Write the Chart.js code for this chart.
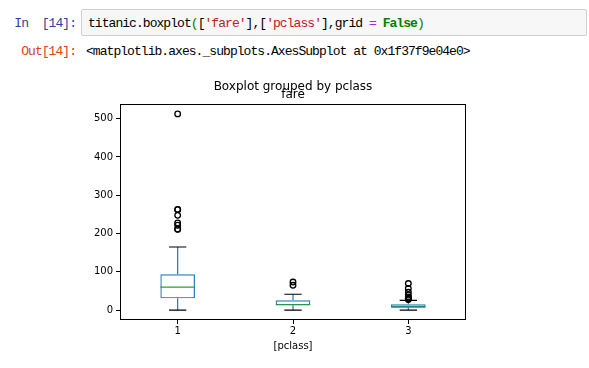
<!DOCTYPE html>
<html>
<head>
<meta charset="utf-8">
<script src="https://cdn.jsdelivr.net/npm/chart.js@4/dist/chart.umd.min.js"></script>
<style>
  html, body { margin: 0; padding: 0; background: #fff; }
  body { width: 589px; height: 368px; position: relative; overflow: hidden; }
  .mono { font-family: "Liberation Mono", "DejaVu Sans Mono", monospace; font-size: 13px; letter-spacing: -0.95px; white-space: pre; position: absolute; line-height: 16px; }
  #inPrompt { left: 0; width: 76px; top: 16px; text-align: right; color: #303F9F; }
  #outPrompt { left: 0; width: 76px; top: 44px; text-align: right; color: #D84315; }
  #inBox { position: absolute; left: 81px; top: 9px; width: 506px; height: 27px; background: #f7f7f7; border: 1px solid #cfcfcf; border-radius: 2px; box-sizing: border-box; }
  #code { left: 88px; top: 16px; color: #000; }
  #outText { left: 86px; top: 44px; color: #000; }
  .s { color: #BA2121; } .o { color: #AA22FF; } .k { color: #008000; font-weight: bold; } .b { color: #008000; }
  #wrap { position: absolute; left: 0; top: 0; width: 589px; height: 368px; }
</style>
</head>
<body>
<div id="inBox"></div>
<div class="mono" id="inPrompt">In  [14]:</div>
<div class="mono" id="code">titanic.boxplot<span class="b">(</span>[<span class="s">'fare'</span>],[<span class="s">'pclass'</span>],grid <span class="o">=</span> <span class="k">False</span><span class="b">)</span></div>
<div class="mono" id="outPrompt">Out[14]:</div>
<div class="mono" id="outText">&lt;matplotlib.axes._subplots.AxesSubplot at 0x1f37f9e04e0&gt;</div>
<div id="wrap"><canvas id="c" width="589" height="368"></canvas></div>
<script>
// ---- data (titanic fare by pclass) ----
const classes = [1, 2, 3];
const tickLabels = ['1', '2', '3'];
const whiskerLow = [0, 0, 0];
const q1 = [30.92, 13.0, 7.75];
const median = [60.29, 14.25, 8.05];
const q3 = [93.5, 26.0, 15.5];
const whiskerHigh = [164.87, 41.58, 25.47];
const outliers1 = [211.34, 211.5, 221.78, 227.53, 247.52, 262.38, 263.0, 512.33];
const outliers2 = [65.0, 73.5];
const outliers3 = [27.9, 29.13, 31.28, 31.39, 34.38, 39.69, 46.9, 56.5, 69.55];
const yTicks = [0, 100, 200, 300, 400, 500];

// ---- build marks from data ----
const boxHalf = 0.15, capHalf = 0.075;
function segments(list) {
  const out = [];
  list.forEach(s => { out.push({x: s[0], y: s[1]}, {x: s[2], y: s[3]}, {x: s[2], y: null}); });
  return out;
}
const whiskerSegs = segments(classes.flatMap((c, i) => [
  [c, q3[i], c, whiskerHigh[i]], [c, q1[i], c, whiskerLow[i]]
]));
const capSegs = segments(classes.flatMap((c, i) => [
  [c - capHalf, whiskerHigh[i], c + capHalf, whiskerHigh[i]],
  [c - capHalf, whiskerLow[i], c + capHalf, whiskerLow[i]]
]));
const medianSegs = segments(classes.map((c, i) => [c - boxHalf, median[i], c + boxHalf, median[i]]));
const fliers = [outliers1, outliers2, outliers3].flatMap((arr, i) => arr.map(v => ({x: classes[i], y: v})));

const BLUE = '#1f77b4', GREEN = '#2ca02c';
const lineBase = { type: 'line', pointRadius: 0, borderWidth: 1.2, fill: false, tension: 0, spanGaps: false };

const framePlugin = {
  id: 'frame',
  afterDraw(chart) {
    const a = chart.chartArea, ctx = chart.ctx;
    ctx.save();
    ctx.strokeStyle = '#000'; ctx.lineWidth = 1;
    ctx.strokeRect(Math.round(a.left) + 0.5, Math.round(a.top) + 0.5, Math.round(a.right - a.left) - 1, Math.round(a.bottom - a.top) - 1);
    ctx.restore();
  }
};

const font10 = { family: 'DejaVu Sans', size: 10 };
new Chart(document.getElementById('c'), {
  type: 'bar',
  data: {
    datasets: [
      { type: 'bar', data: classes.map((c, i) => ({x: c, y: [q1[i], q3[i]]})),
        backgroundColor: 'rgba(0,0,0,0)', borderColor: BLUE, borderWidth: 1.2, borderSkipped: false,
        barPercentage: 0.3, categoryPercentage: 1, order: 5 },
      Object.assign({}, lineBase, { data: whiskerSegs, borderColor: BLUE, order: 4 }),
      Object.assign({}, lineBase, { data: capSegs, borderColor: '#000', order: 3 }),
      Object.assign({}, lineBase, { data: medianSegs, borderColor: GREEN, order: 2 }),
      { type: 'scatter', data: fliers, pointStyle: 'circle', pointRadius: 2.8, borderWidth: 1.3,
        pointBorderColor: '#000', pointBackgroundColor: 'rgba(0,0,0,0)', borderColor: '#000', order: 1 }
    ]
  },
  options: {
    responsive: false, animation: false,
    layout: { padding: { left: 80, right: 123, top: 80, bottom: 12 } },
    plugins: {
      legend: { display: false }, tooltip: { enabled: false },
      title: { display: true, fullSize: false, text: 'Boxplot grouped by pclass', color: '#000',
        font: { family: 'DejaVu Sans', size: 12, weight: 'normal' }, padding: { top: 0, bottom: -7 } },
      subtitle: { display: true, fullSize: false, text: 'fare', color: '#000',
        font: { family: 'DejaVu Sans', size: 12, weight: 'normal' }, padding: { top: 0, bottom: 2.3 } }
    },
    scales: {
      x: {
        type: 'linear', min: 0.5, max: 3.5, offset: false,
        afterBuildTicks: s => { s.ticks = classes.map(v => ({value: v})); },
        afterFit: s => { s.height = 36; },
        grid: { display: true, offset: false, drawOnChartArea: false, drawTicks: true, tickLength: 4, color: '#000', lineWidth: 1 },
        border: { display: false },
        ticks: { font: font10, color: '#000', padding: 1, maxRotation: 0,
          callback: (v) => tickLabels[classes.indexOf(v)] },
        title: { display: true, text: '[pclass]', font: font10, color: '#000', padding: { top: 0, bottom: 4 } }
      },
      y: {
        type: 'linear', min: -25.6, max: 537.9,
        afterBuildTicks: s => { s.ticks = yTicks.map(v => ({value: v})); },
        afterFit: s => { s.width = 40; },
        grid: { display: true, drawOnChartArea: false, drawTicks: true, tickLength: 4, color: '#000', lineWidth: 1 },
        border: { display: false },
        ticks: { font: font10, color: '#000', padding: 3 }
      }
    }
  },
  plugins: [framePlugin]
});
</script>
</body>
</html>
